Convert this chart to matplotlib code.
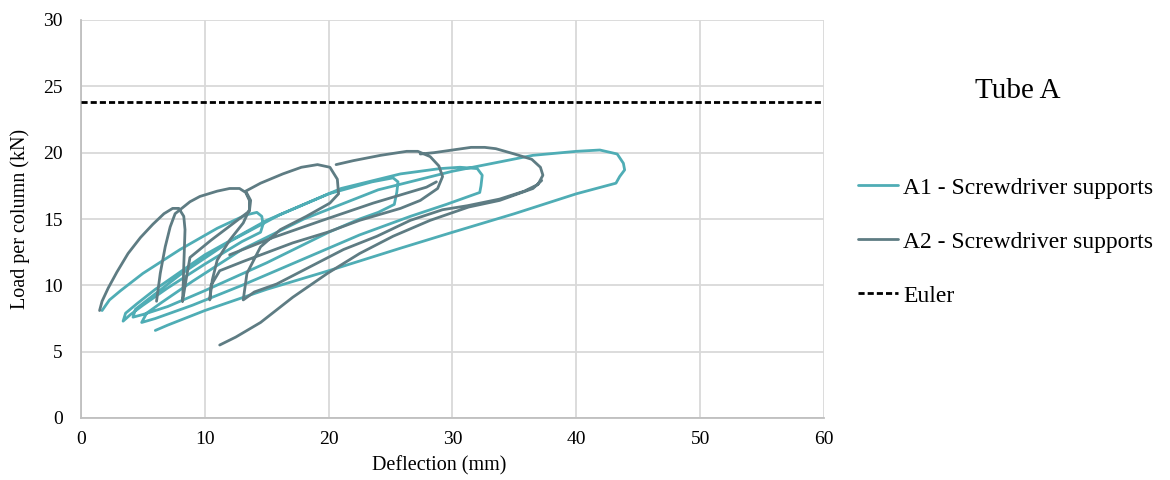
import numpy as np
import matplotlib
matplotlib.use("Agg")
import matplotlib.pyplot as plt

nan = np.nan

# ---- Data ----
# A1 - Screwdriver supports (teal): one continuous hysteresis path
A1_x = [1.7, 2.3, 3.2, 5.0, 8.0, 11.0, 13.3, 14.2,
        14.6, 14.7, 14.5,
        13.0, 10.0, 7.0, 5.0, 4.0, 3.4,
        3.6, 4.5, 6.0, 10.0, 15.0, 20.0, 23.5, 25.2,
        25.6, 25.5, 25.3,
        24.0, 22.5, 20.0, 15.0, 10.0, 7.0, 5.0, 4.2,
        4.4, 5.5, 8.0, 12.0, 16.0, 21.0, 25.8, 29.0, 30.6, 32.0,
        32.4, 32.3, 32.2,
        29.5, 26.6, 22.5, 18.0, 13.0, 9.0, 6.0, 4.9,
        5.3, 6.5, 9.0, 13.0, 18.0, 24.0, 30.0, 33.8, 36.5, 40.0, 41.9, 43.3,
        43.8, 43.9, 43.5, 43.2,
        40.0, 35.0, 30.0, 25.8, 20.0, 15.0, 10.0, 7.0, 6.0]
A1_y = [8.1, 8.9, 9.6, 10.9, 12.7, 14.3, 15.3, 15.5,
        15.2, 14.6, 14.0,
        13.3, 11.6, 9.8, 8.5, 7.8, 7.3,
        7.9, 8.6, 9.7, 12.3, 14.9, 16.9, 17.8, 18.1,
        17.8, 17.0, 16.1,
        15.5, 15.0, 14.0, 11.7, 9.6, 8.4, 7.8, 7.6,
        8.2, 9.0, 10.8, 13.3, 15.3, 17.3, 18.4, 18.8, 18.9, 18.8,
        18.3, 17.5, 17.0,
        16.1, 15.2, 13.8, 12.0, 10.0, 8.5, 7.5, 7.2,
        7.9, 8.7, 10.3, 12.7, 15.0, 17.2, 18.6, 19.3, 19.8, 20.1, 20.2, 19.9,
        19.2, 18.7, 18.2, 17.7,
        16.9, 15.4, 14.0, 12.8, 11.1, 9.7, 8.1, 7.0, 6.6]

# A2 - Screwdriver supports (dark grey): several strokes separated by nan
A2_x = [1.5, 1.7, 2.2, 2.9, 3.8, 4.8, 5.8, 6.7, 7.4, 7.9, 8.3, 8.4, 8.35, 8.3, 8.25, 8.2, nan,
        6.1, 6.4, 6.8, 7.2, 7.6, 8.0, 8.8, 9.6, 11.0, 12.0, 12.8, 13.3, 13.6, 13.6, 13.1, 12.0, 11.0, 10.6, 10.4,
        10.5, 11.2, 13.1, 17.1, 19.9, 22.5, 25.8, 27.4, 28.8, 29.2, 28.9, 28.2, 27.2, 26.3, 24.2, 22.0, 20.6, nan,
        8.2, 8.5, 8.8, 10.5, 12.2, 13.6, 13.7, 13.3, 14.5, 16.3, 17.8, 19.1, 20.1, 20.7, 20.8, 20.1, 18.2, 16.1, 14.5, 13.4, 13.1,
        14.0, 15.8, 18.5, 21.2, 23.9, 26.6, 29.2, 31.2, 33.8, 35.8, 36.9, 37.3, 37.1, 36.4, 35.0, 33.5, 32.6, 31.5, 30.0, 28.5, 27.4, nan,
        37.2, 36.5, 33.8, 31.3, 28.2, 25.2, 22.5, 19.9, 17.1, 14.5, 12.5, 11.2, nan,
        12.0, 15.5, 19.5, 23.6, 27.9, 28.7]
A2_y = [8.1, 8.8, 9.8, 11.0, 12.4, 13.6, 14.6, 15.4, 15.8, 15.8, 15.2, 14.2, 12.8, 11.5, 10.0, 8.8, nan,
        8.8, 10.9, 12.9, 14.4, 15.4, 15.7, 16.3, 16.7, 17.1, 17.3, 17.3, 17.0, 16.4, 15.7, 14.7, 13.4, 11.9, 10.4, 8.9,
        10.0, 11.1, 11.8, 13.2, 14.0, 14.9, 15.8, 16.4, 17.3, 18.2, 19.0, 19.7, 20.1, 20.1, 19.8, 19.4, 19.1, nan,
        8.8, 10.5, 12.1, 13.4, 14.6, 15.6, 16.4, 17.1, 17.7, 18.4, 18.9, 19.1, 18.9, 18.0, 16.9, 16.2, 15.2, 14.2, 12.9, 10.9, 8.9,
        9.5, 10.1, 11.4, 12.7, 13.7, 14.9, 15.7, 16.0, 16.5, 17.1, 17.6, 18.3, 18.9, 19.5, 19.9, 20.3, 20.4, 20.4, 20.2, 20.0, 19.9, nan,
        17.9, 17.3, 16.4, 15.9, 14.9, 13.7, 12.4, 10.9, 9.1, 7.2, 6.1, 5.5, nan,
        12.3, 13.6, 14.9, 16.2, 17.4, 17.8]

euler_load = 23.8
x_ticks = [0, 10, 20, 30, 40, 50, 60]
y_ticks = [0, 5, 10, 15, 20, 25, 30]
labels = ["A1 - Screwdriver supports", "A2 - Screwdriver supports", "Euler"]
title = "Tube A"

# ---- Figure ----
plt.rcParams['font.family'] = ['Liberation Serif', 'DejaVu Serif']
fig = plt.figure(figsize=(11.7, 4.8), dpi=100)
ax = fig.add_axes([81/1170, 62/480, (824-81)/1170, (418-20)/480])

teal = '#4fadb5'
dark = '#5e7c83'
ax.plot(A1_x, A1_y, color=teal, lw=2.0, label=labels[0], zorder=3,
        solid_joinstyle='round', solid_capstyle='round')
ax.plot(A2_x, A2_y, color=dark, lw=2.0, label=labels[1], zorder=4,
        solid_joinstyle='round', solid_capstyle='round')
ax.plot([x_ticks[0], x_ticks[-1]], [euler_load, euler_load], color='black', lw=2.0,
        ls=(0, (2.2, 1.1)), label=labels[2], zorder=5)

ax.set_xlim(x_ticks[0], x_ticks[-1])
ax.set_ylim(y_ticks[0], y_ticks[-1])
ax.set_xticks(x_ticks)
ax.set_yticks(y_ticks)
ax.grid(True, color='#d9d9d9', lw=1.3)
ax.set_axisbelow(True)
for s in ['top', 'right']:
    ax.spines[s].set_visible(False)
for s in ['left', 'bottom']:
    ax.spines[s].set_color('#bfbfbf')
    ax.spines[s].set_linewidth(1.3)
ax.tick_params(axis='y', length=0, labelsize=14, pad=13, colors='black')
ax.tick_params(axis='x', length=0, labelsize=14, pad=9, colors='black')
ax.set_xlabel('Deflection (mm)', fontsize=14.5)
ax.set_ylabel('Load per column (kN)', fontsize=14.5)
ax.xaxis.set_label_coords((439 - 81) / 743, -(466 - 418) / 398, transform=ax.transAxes)
ax.yaxis.set_label_coords(-(81 - 20) / 743, 0.5, transform=ax.transAxes)
ax.xaxis.label.set_va('center')
ax.yaxis.label.set_va('center')

handles, labs = ax.get_legend_handles_labels()
fig.legend(handles, labs, loc='upper left', bbox_to_anchor=(858/1170, 1 - 177/480),
           frameon=False, fontsize=17, handlelength=1.7, handletextpad=0.2,
           labelspacing=1.38, borderpad=0, borderaxespad=0)
fig.text(1018/1170, 1 - 91/480, title, fontsize=21, ha='center', va='center')

fig.savefig('out.png', dpi=100)
